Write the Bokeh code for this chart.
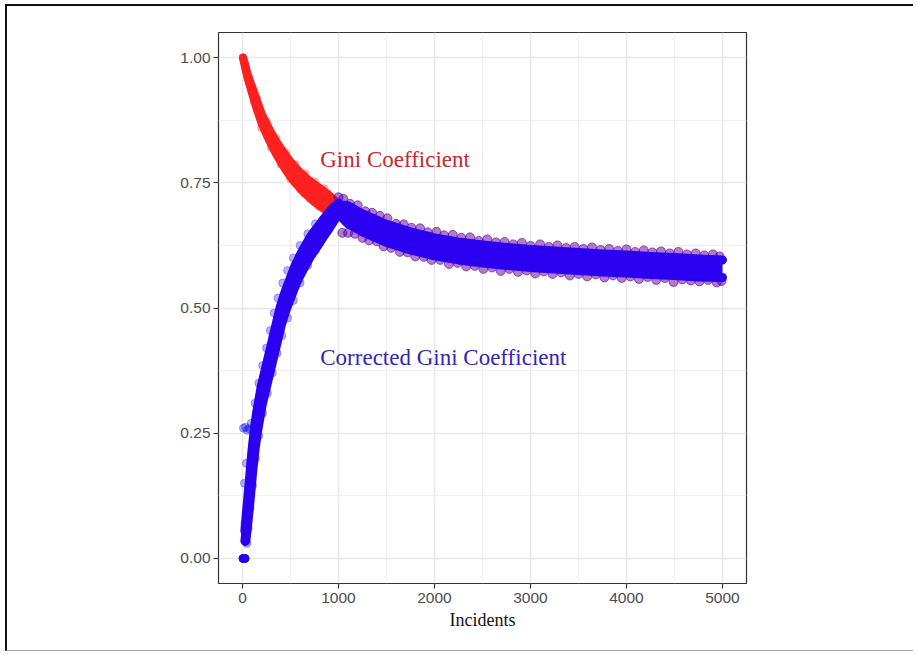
from bokeh.plotting import figure
from bokeh.models import FixedTicker, Range1d, Label, NumeralTickFormatter
from bokeh.embed import file_html
from bokeh.resources import INLINE

# ---- data ----
# Gini coefficient (red), 0..1000 incidents
gini_x = [5, 25, 50, 75, 100, 150, 200, 250, 300, 350, 400, 450, 500, 550, 600, 650, 700, 750, 800, 850, 900, 950, 1000]
gini_lo = [1.000, 0.982, 0.961, 0.945, 0.928, 0.896, 0.868, 0.846, 0.826, 0.807, 0.791, 0.775, 0.762, 0.749, 0.739, 0.728, 0.720, 0.711, 0.704, 0.697, 0.692, 0.690, 0.690]
gini_hi = [1.000, 0.988, 0.969, 0.955, 0.942, 0.914, 0.888, 0.868, 0.850, 0.833, 0.819, 0.805, 0.792, 0.781, 0.771, 0.762, 0.754, 0.747, 0.740, 0.733, 0.726, 0.717, 0.707]
gini_fx = [150, 250, 350, 450, 550, 650, 750, 850, 120, 200, 300, 400, 500, 600, 700, 800]
gini_fy = [0.918, 0.872, 0.838, 0.810, 0.786, 0.768, 0.752, 0.738, 0.912, 0.860, 0.820, 0.787, 0.758, 0.737, 0.719, 0.703]

# Corrected Gini coefficient (blue), 0..1000 incidents
cg_zero_x = [5, 12, 20, 27]
cg_zero_y = [0.0, 0.0, 0.0, 0.0]
cg_x = [30, 50, 75, 100, 125, 150, 200, 250, 300, 350, 400, 450, 500, 550, 600, 650, 700, 750, 800, 850, 900, 950, 1000]
cg_lo = [0.035, 0.070, 0.118, 0.172, 0.217, 0.252, 0.307, 0.347, 0.387, 0.427, 0.467, 0.497, 0.522, 0.547, 0.567, 0.585, 0.602, 0.617, 0.631, 0.646, 0.660, 0.675, 0.690]
cg_hi = [0.055, 0.100, 0.152, 0.208, 0.253, 0.288, 0.343, 0.383, 0.423, 0.463, 0.503, 0.533, 0.558, 0.583, 0.603, 0.621, 0.638, 0.652, 0.664, 0.677, 0.689, 0.700, 0.708]
cg_fx = [10, 30, 50, 70, 20, 25, 40, 90, 130, 170, 210, 250, 290, 330, 370, 420, 470, 530, 600, 680, 760,
         45, 60, 80, 105, 135, 170, 210, 260, 310, 360, 410, 470, 530, 600, 680, 760, 850, 930]
cg_fy = [0.260, 0.262, 0.256, 0.259, 0.150, 0.070, 0.190, 0.270, 0.310, 0.350, 0.385, 0.420, 0.455, 0.490, 0.520, 0.550, 0.575, 0.600, 0.625, 0.648, 0.668,
         0.030, 0.060, 0.100, 0.145, 0.200, 0.245, 0.290, 0.330, 0.370, 0.410, 0.445, 0.480, 0.515, 0.550, 0.585, 0.615, 0.645, 0.672]

# Both coefficients coincide above 1000 incidents
tail_x = [1000, 1100, 1250, 1500, 1750, 2000, 2250, 2500, 2750, 3000, 3250, 3500, 3750, 4000, 4250, 4500, 4750, 5000]
tail_lo = [0.688, 0.668, 0.652, 0.631, 0.616, 0.604, 0.596, 0.590, 0.585, 0.581, 0.578, 0.575, 0.572, 0.570, 0.567, 0.565, 0.562, 0.561]
tail_hi = [0.706, 0.704, 0.688, 0.667, 0.652, 0.640, 0.632, 0.626, 0.621, 0.617, 0.614, 0.611, 0.608, 0.606, 0.603, 0.601, 0.598, 0.596]
tail_top_x = [1000, 1050, 1120, 1200, 1280, 1350, 1430, 1510, 1600, 1680, 1760, 1850, 1930, 2020, 2100, 2190, 2280, 2370, 2460, 2550, 2640, 2730, 2820, 2910,
              3000, 3100, 3190, 3280, 3370, 3460, 3550, 3640, 3730, 3820, 3910, 4000, 4090, 4180, 4270, 4360, 4450, 4540, 4630, 4720, 4810, 4900, 4970]
tail_top_y = [0.721, 0.718, 0.708, 0.705, 0.693, 0.690, 0.684, 0.679, 0.668, 0.667, 0.660, 0.659, 0.651, 0.652, 0.645, 0.646, 0.640, 0.641, 0.634, 0.637, 0.631, 0.632, 0.627, 0.630,
              0.624, 0.627, 0.622, 0.625, 0.620, 0.622, 0.618, 0.621, 0.616, 0.618, 0.614, 0.617, 0.612, 0.615, 0.611, 0.613, 0.609, 0.612, 0.607, 0.609, 0.605, 0.607, 0.603]
tail_bot_x = [1040, 1100, 1170, 1250, 1320, 1400, 1470, 1550, 1640, 1720, 1800, 1890, 1970, 2060, 2150, 2240, 2330, 2420, 2510, 2600, 2690, 2780, 2870, 2960,
              3050, 3140, 3230, 3320, 3410, 3500, 3590, 3680, 3770, 3860, 3950, 4040, 4130, 4220, 4310, 4400, 4490, 4580, 4670, 4760, 4850, 4940, 4990]
tail_bot_y = [0.650, 0.650, 0.648, 0.640, 0.635, 0.633, 0.623, 0.620, 0.612, 0.611, 0.603, 0.602, 0.596, 0.596, 0.588, 0.590, 0.583, 0.584, 0.578, 0.581, 0.574, 0.578, 0.572, 0.575,
              0.569, 0.573, 0.568, 0.571, 0.565, 0.568, 0.563, 0.567, 0.561, 0.565, 0.560, 0.563, 0.558, 0.562, 0.556, 0.560, 0.552, 0.557, 0.555, 0.553, 0.556, 0.551, 0.554]

x_ticks = [0, 1000, 2000, 3000, 4000, 5000]
x_minor = [500, 1500, 2500, 3500, 4500]
y_ticks = [0.0, 0.25, 0.5, 0.75, 1.0]
y_minor = [0.125, 0.375, 0.625, 0.875]

RED = "#ff2020"
BLUE = "#2b00f0"

p = figure(width=908, height=647, output_backend="svg", toolbar_location=None,
           x_range=Range1d(-250, 5250), y_range=Range1d(-0.05, 1.05),
           min_border_left=211, min_border_right=169, min_border_top=26, min_border_bottom=70)
p.styles = {"margin-left": "5px", "margin-top": "4px",
            "border-left": "2px solid #111111", "border-top": "2px solid #111111",
            "border-bottom": "1px solid #aaaaaa"}
p.background_fill_color = "white"
p.border_fill_color = "white"
p.outline_line_color = "#333333"
p.outline_line_width = 1.2

xt = FixedTicker(ticks=x_ticks, minor_ticks=x_minor)
yt = FixedTicker(ticks=y_ticks, minor_ticks=y_minor)
p.xaxis.ticker = xt
p.yaxis.ticker = yt
p.xgrid.ticker = xt
p.ygrid.ticker = yt
p.yaxis.formatter = NumeralTickFormatter(format="0.00")
for g in (p.xgrid, p.ygrid):
    g.grid_line_color = "#e8e8e8"
    g.grid_line_width = 1.5
    g.minor_grid_line_color = "#eeeeee"
    g.minor_grid_line_width = 0.9
for ax in (p.xaxis, p.yaxis):
    ax.axis_line_color = None
    ax.major_tick_line_color = "#333333"
    ax.major_tick_line_width = 1.2
    ax.major_tick_out = 5
    ax.major_tick_in = 0
    ax.minor_tick_line_color = None
    ax.major_label_text_font = "Liberation Sans"
    ax.major_label_text_font_size = "15.5px"
    ax.major_label_text_color = "#4d4d4d"
p.yaxis.major_label_standoff = 3
p.xaxis.major_label_standoff = 4
p.xaxis.axis_label = "Incidents"
p.xaxis.axis_label_text_font = "Liberation Serif"
p.xaxis.axis_label_text_font_style = "normal"
p.xaxis.axis_label_text_font_size = "18px"
p.xaxis.axis_label_text_color = "#111111"
p.xaxis.axis_label_standoff = 4

# red: Gini coefficient
p.scatter(gini_fx, gini_fy, size=8, color=RED, fill_alpha=0.3, line_alpha=0.3)
p.varea(x=gini_x, y1=gini_lo, y2=gini_hi, fill_color=RED)
p.line(gini_x, gini_lo, line_width=8, color=RED, line_cap="round", line_join="round")
p.line(gini_x, gini_hi, line_width=8, color=RED, line_cap="round", line_join="round")

# tail fringe (red + blue overlap -> purple)
for fx, fy in ((tail_top_x, tail_top_y), (tail_bot_x, tail_bot_y)):
    p.scatter(fx, fy, size=9, color="#ff0000", fill_alpha=0.3, line_alpha=0.3)
    p.scatter(fx, fy, size=9, color="#0000ff", fill_alpha=0.3, line_alpha=0.35)

# blue: corrected Gini coefficient
p.scatter(cg_fx, cg_fy, size=8, color="#0000ff", fill_alpha=0.3, line_alpha=0.3)
p.scatter(cg_zero_x, cg_zero_y, size=8, color=BLUE)
p.varea(x=cg_x, y1=cg_lo, y2=cg_hi, fill_color=BLUE)
p.line(cg_x, cg_lo, line_width=10, color=BLUE, line_cap="round", line_join="round")
p.line(cg_x, cg_hi, line_width=10, color=BLUE, line_cap="round", line_join="round")
p.varea(x=tail_x, y1=tail_lo, y2=tail_hi, fill_color=BLUE)
p.line(tail_x, tail_lo, line_width=9, color=BLUE, line_cap="round", line_join="round")
p.line(tail_x, tail_hi, line_width=9, color=BLUE, line_cap="round", line_join="round")

p.add_layout(Label(x=810, y=0.797, text="Gini Coefficient", text_font="Liberation Serif",
                   text_font_size="23px", text_color="#c62a2a", text_baseline="middle"))
p.add_layout(Label(x=810, y=0.401, text="Corrected Gini Coefficient", text_font="Liberation Serif",
                   text_font_size="23px", text_color="#3526b0", text_baseline="middle"))

open("out.html", "w").write(file_html(p, INLINE))
